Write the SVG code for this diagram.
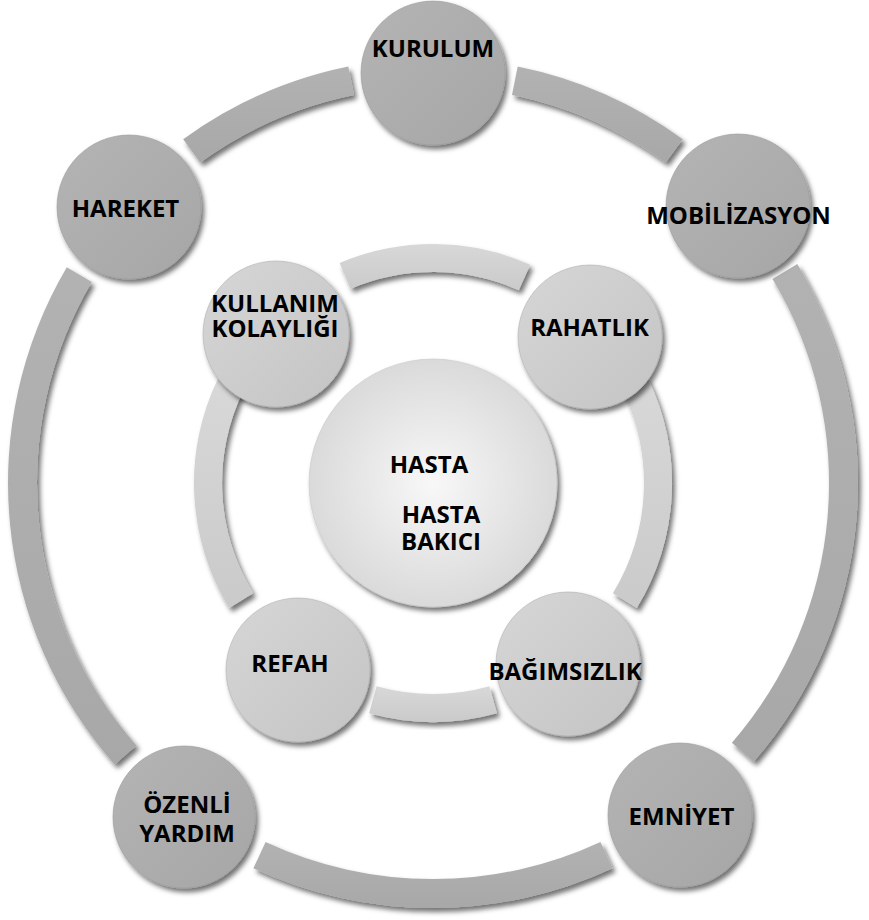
<svg xmlns="http://www.w3.org/2000/svg" width="869" height="920" viewBox="0 0 869 920">
<defs>
<filter id="sh" x="-20%" y="-20%" width="140%" height="140%">
<feDropShadow dx="3" dy="4" stdDeviation="2.5" flood-color="#000" flood-opacity="0.55"/>
</filter>
<linearGradient id="gOuter" x1="0" y1="0" x2="1" y2="1">
<stop offset="0" stop-color="#b4b4b4"/>
<stop offset="1" stop-color="#a6a6a6"/>
</linearGradient>
<linearGradient id="gInner" x1="0" y1="0" x2="1" y2="1">
<stop offset="0" stop-color="#d6d6d6"/>
<stop offset="1" stop-color="#c4c4c4"/>
</linearGradient>
<radialGradient id="gCenter" cx="0.5" cy="0.5" r="0.5">
<stop offset="0" stop-color="#f8f8f8"/>
<stop offset="1" stop-color="#dadada"/>
</radialGradient>
<linearGradient id="gArcO" x1="0" y1="0" x2="0" y2="1">
<stop offset="0" stop-color="#b2b2b2"/>
<stop offset="1" stop-color="#a8a8a8"/>
</linearGradient>
<linearGradient id="gArcI" x1="0" y1="0" x2="0" y2="1">
<stop offset="0" stop-color="#d8d8d8"/>
<stop offset="1" stop-color="#cacaca"/>
</linearGradient>
</defs>
<style>
.arcO{fill:url(#gArcO);filter:url(#sh);}
.arcI{fill:url(#gArcI);filter:url(#sh);}
.nO{fill:url(#gOuter);stroke:#9a9a9a;stroke-width:0.6;filter:url(#sh);}
.nI{fill:url(#gInner);stroke:#b0b0b0;stroke-width:0.6;filter:url(#sh);}
.nC{fill:url(#gCenter);stroke:#c8c8c8;stroke-width:0.6;filter:url(#sh);}
text{font-family:"Open Sans","Liberation Sans",sans-serif;font-weight:700;font-size:24px;fill:#000;text-anchor:middle;}
</style>
<rect width="869" height="920" fill="#fff"/>
<g id="connectors">
<path class="arcO" d="M 183.2,139.2 A 425 425 0 0 1 348.3,66.5 L 354.0,95.0 A 396 396 0 0 0 200.2,162.6 Z"/>
<path class="arcO" d="M 517.7,66.5 A 425 425 0 0 1 682.8,139.2 L 665.8,162.6 A 396 396 0 0 0 512.0,95.0 Z"/>
<path class="arcO" d="M 797.3,264.1 A 425 425 0 0 1 753.7,761.8 L 731.9,742.8 A 396 396 0 0 0 772.5,279.1 Z"/>
<path class="arcO" d="M 612.6,868.2 A 425 425 0 0 1 253.4,868.2 L 265.6,841.9 A 396 396 0 0 0 600.4,841.9 Z"/>
<path class="arcO" d="M 114.7,764.6 A 425 425 0 0 1 66.8,267.3 L 91.8,282.0 A 396 396 0 0 0 136.4,745.4 Z"/>
<path class="arcI" d="M 339.6,263.0 A 239 239 0 0 1 530.2,264.7 L 518.8,290.3 A 211 211 0 0 0 350.6,288.8 Z"/>
<path class="arcI" d="M 647.8,378.2 A 239 239 0 0 1 636.8,607.9 L 612.9,593.2 A 211 211 0 0 0 622.6,390.5 Z"/>
<path class="arcI" d="M 496.9,713.3 A 239 239 0 0 1 369.1,713.3 L 376.6,686.3 A 211 211 0 0 0 489.4,686.3 Z"/>
<path class="arcI" d="M 229.2,607.9 A 239 239 0 0 1 218.2,378.2 L 243.4,390.5 A 211 211 0 0 0 253.1,593.2 Z"/>
</g>
<g id="node-kurulum"><circle class="nO" cx="433" cy="73" r="72"/><text x="433" y="57">KURULUM</text></g>
<g id="node-mobilizasyon"><circle class="nO" cx="738" cy="206" r="72"/><text x="738.5" y="224">MOBİLİZASYON</text></g>
<g id="node-emniyet"><circle class="nO" cx="680" cy="815" r="72"/><text x="681.5" y="825">EMNİYET</text></g>
<g id="node-ozenli-yardim"><circle class="nO" cx="184" cy="817" r="71"/><text x="187" y="813">ÖZENLİ</text><text x="187" y="842">YARDIM</text></g>
<g id="node-hareket"><circle class="nO" cx="129" cy="207" r="72"/><text x="125.5" y="217">HAREKET</text></g>
<g id="node-kullanim-kolayligi"><circle class="nI" cx="276" cy="334" r="73"/><text x="275" y="312">KULLANIM</text><text x="275" y="337">KOLAYLIĞI</text></g>
<g id="node-rahatlik"><circle class="nI" cx="590" cy="337" r="72"/><text x="589.5" y="336">RAHATLIK</text></g>
<g id="node-bagimsizlik"><circle class="nI" cx="568" cy="664" r="72"/><text x="565" y="680">BAĞIMSIZLIK</text></g>
<g id="node-refah"><circle class="nI" cx="298" cy="670" r="72"/><text x="290" y="672">REFAH</text></g>
<g id="node-hasta"><circle class="nC" cx="433" cy="483" r="124"/><text x="429" y="473">HASTA</text><text x="441" y="523">HASTA</text><text x="441" y="550">BAKICI</text></g>
</svg>
